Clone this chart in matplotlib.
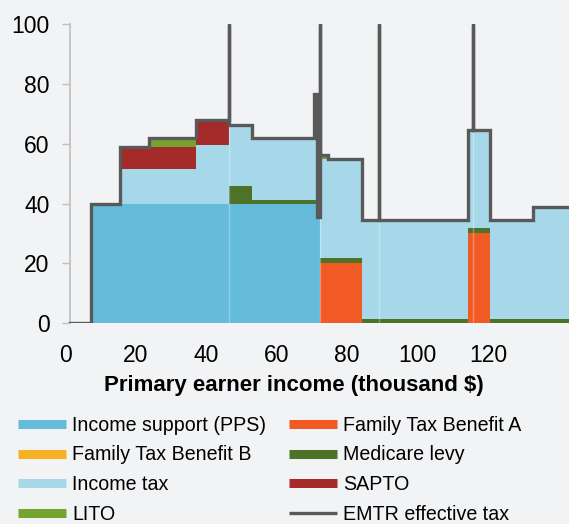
import numpy as np
import matplotlib.pyplot as plt
from matplotlib.lines import Line2D

plt.rcParams['font.family'] = ['Liberation Sans', 'DejaVu Sans']

# segment edges of primary earner income (thousand $)
income = [1.5, 7.5, 15.6, 23.7, 37.2, 46.5, 53.1, 72.3, 74.6, 84.2, 114.3, 120.6, 132.7, 143.0]

# EMTR components per income segment (%)
pps      = [0, 40, 40, 40, 40, 40, 40, 0, 0, 0, 0, 0, 0]
ftb_a    = [0, 0, 0, 0, 0, 0, 0, 20, 20, 0, 30, 0, 0]
ftb_b    = [0, 0, 0, 0, 0, 0, 0, 0, 0, 0, 0, 0, 0]
medicare = [0, 0, 0, 0, 0, 5.8, 1.1, 1.6, 1.6, 1.3, 1.7, 1.3, 1.3]
inc_tax  = [0, 0, 11.4, 11.4, 19.5, 20.0, 20.1, 33.2, 33.2, 33.1, 32.8, 33.1, 37.6]
sapto    = [0, 0, 7.6, 7.6, 7.8, 0, 0, 0, 0, 0, 0, 0, 0]
lito     = [0, 0, 0, 3.0, 0.7, 0.6, 0.6, 1.4, 0, 0, 0, 0, 0]

# effective EMTR line (vertices)
emtr_x = [1.5, 7.5, 7.5, 15.6, 15.6, 23.7, 23.7, 37.2, 37.2, 46.5, 46.5, 46.5, 53.1, 53.1,
          70.7, 70.7, 71.4, 71.4, 72.3, 72.3, 72.3, 74.6, 74.6, 84.2, 84.2, 89.1, 89.1, 89.1,
          114.3, 114.3, 115.7, 115.7, 115.7, 120.6, 120.6, 132.7, 132.7, 143.0]
emtr_y = [0, 0, 40, 40, 59, 59, 62, 62, 68, 68, 100, 66.4, 66.4, 61.8,
          61.8, 76.5, 76.5, 35.5, 35.5, 100, 56.2, 56.2, 54.8, 54.8, 34.4, 34.4, 100, 34.4,
          34.4, 64.5, 64.5, 100, 64.5, 64.5, 34.4, 34.4, 38.9, 38.9]

spikes = [46.5, 72.3, 89.1, 115.7]

labels = ['Income support (PPS)', 'Family Tax Benefit A', 'Family Tax Benefit B',
          'Medicare levy', 'Income tax', 'SAPTO', 'LITO']
colors = ['#65BBDA', '#F15A24', '#F7B125', '#4D7228', '#A6D8EA', '#A52A2A', '#76A22E']
line_color = '#595959'
bg = '#F2F3F5'

fig = plt.figure(figsize=(5.69, 5.24), dpi=100, facecolor=bg)
ax = fig.add_axes([65 / 569, 201 / 524, 504 / 569, 298.7 / 524])
ax.set_facecolor(bg)

x = np.array(income)
bottom = np.zeros(len(x))
for vals, c in zip([pps, ftb_a, ftb_b, medicare, inc_tax, sapto, lito], colors):
    v = np.append(vals, vals[-1])
    ax.fill_between(x, bottom, bottom + v, step='post', color=c, lw=0, zorder=1)
    bottom = bottom + v

# faint seams in the fill at the spikes
tops = [bottom[np.searchsorted(x, s, side='right') - 1] for s in spikes]
ax.vlines(spikes, 0, tops, color='white', alpha=0.3, lw=1, zorder=2)

ax.plot(emtr_x, emtr_y, color=line_color, lw=2.4, zorder=3, solid_joinstyle='miter')

ax.set_xlim(0, 143)
ax.set_ylim(0, 100)
ax.set_xticks(range(0, 121, 20))
ax.set_yticks(range(0, 101, 20))
ax.tick_params(axis='x', length=0, pad=15, labelsize=16.5)
ax.tick_params(axis='y', length=5.5, width=1, color='#BFBFBF', pad=9.5, labelsize=16.5)
for s in ['top', 'right', 'bottom']:
    ax.spines[s].set_visible(False)
ax.spines['left'].set_position(('data', 1.5))
ax.spines['left'].set_color('#BFBFBF')
ax.spines['left'].set_linewidth(1.2)

ax.set_xlabel('Primary earner income (thousand $)', fontsize=16, fontweight='bold')
ax.xaxis.set_label_coords((294 - 65) / 504, -0.175)

handles = [Line2D([], [], color=c, lw=6.5, solid_capstyle='butt') for c in colors]
handles.append(Line2D([], [], color=line_color, lw=2.4, solid_capstyle='butt'))
all_labels = labels + ['EMTR effective tax']
order = [0, 2, 4, 6, 1, 3, 5, 7]
fig.legend([handles[i] for i in order], [all_labels[i] for i in order],
           ncol=2, loc='upper left', bbox_to_anchor=(18 / 569, 0.2065),
           frameon=False, fontsize=14.1, handlelength=2.45, handletextpad=0.31,
           columnspacing=1.17, labelspacing=0.54, borderpad=0, borderaxespad=0)

fig.savefig('out.png', dpi=100, facecolor=bg)
